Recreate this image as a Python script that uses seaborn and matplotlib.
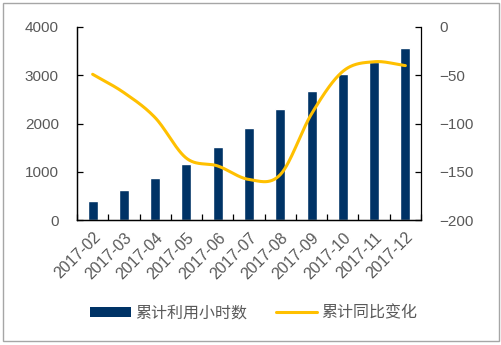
import numpy as np
import pandas as pd
import seaborn as sns
import matplotlib
matplotlib.use("Agg")
import matplotlib.pyplot as plt
from matplotlib.patches import Rectangle, Patch
from matplotlib.lines import Line2D
from matplotlib.ticker import FixedLocator, NullFormatter

months = ["2017-02", "2017-03", "2017-04", "2017-05", "2017-06", "2017-07",
          "2017-08", "2017-09", "2017-10", "2017-11", "2017-12"]
hours = [394, 620, 870, 1160, 1512, 1913, 2296, 2665, 3020, 3265, 3575]
yoy_change = [-49, -68, -94, -136, -144, -158, -153, -90, -46, -36, -40]

bar_label = "累计利用小时数"
line_label = "累计同比变化"

BAR_COLOR = "#003366"
LINE_COLOR = "#FFC000"
TEXT_COLOR = "#595959"

sns.set_theme(style="white")
plt.rcParams["font.family"] = ["Liberation Sans", "Noto Sans CJK SC", "DejaVu Sans"]


def smooth_curve(xs, ys, steps=30):
    """Catmull-Rom smoothing through the given points (drawing only)."""
    xs = np.asarray(xs, float)
    ys = np.asarray(ys, float)
    px = np.concatenate([[2 * xs[0] - xs[1]], xs, [2 * xs[-1] - xs[-2]]])
    py = np.concatenate([[2 * ys[0] - ys[1]], ys, [2 * ys[-1] - ys[-2]]])
    out_x, out_y = [], []
    t = np.linspace(0, 1, steps, endpoint=False)
    for i in range(1, len(px) - 2):
        for arr, out in ((px, out_x), (py, out_y)):
            p0, p1, p2, p3 = arr[i - 1], arr[i], arr[i + 1], arr[i + 2]
            seg = 0.5 * ((2 * p1) + (-p0 + p2) * t
                         + (2 * p0 - 5 * p1 + 4 * p2 - p3) * t ** 2
                         + (-p0 + 3 * p1 - 3 * p2 + p3) * t ** 3)
            out.extend(seg)
    out_x.append(xs[-1])
    out_y.append(ys[-1])
    return np.array(out_x), np.array(out_y)


df = pd.DataFrame({"month": months, "hours": hours, "yoy": yoy_change})

fig = plt.figure(figsize=(5.02, 3.45), dpi=100)
ax = fig.add_axes([77 / 502, 1 - 220 / 345, (421 - 77) / 502, (220 - 27) / 345])

sns.barplot(data=df, x="month", y="hours", color=BAR_COLOR, width=0.32,
            saturation=1, ax=ax)
ax.set_xlim(-0.5, len(months) - 0.5)
ax.set_ylim(0, 4000)
ax.set_yticks([0, 1000, 2000, 3000, 4000])
ax.set_xlabel("")
ax.set_ylabel("")

ax2 = ax.twinx()
sx, sy = smooth_curve(np.arange(len(months)), yoy_change)
sns.lineplot(x=sx, y=sy, color=LINE_COLOR, linewidth=2.2, ax=ax2, sort=False)
ax2.set_ylim(-200, 0)
ax2.set_yticks([-200, -150, -100, -50, 0])
ax2.set_xlim(-0.5, len(months) - 0.5)

for a in (ax, ax2):
    for side in ("left", "right", "bottom"):
        a.spines[side].set_visible(True)
        a.spines[side].set_color("black")
        a.spines[side].set_linewidth(0.9)
    a.spines["top"].set_visible(False)

ax.spines["right"].set_visible(False)

ax.tick_params(axis="y", direction="in", length=4, width=0.9, color="black",
               left=True, pad=13, labelsize=11, labelcolor=TEXT_COLOR)
ax2.tick_params(axis="y", direction="in", length=4, width=0.9, color="black",
                right=True, pad=13, labelsize=11, labelcolor=TEXT_COLOR)

# category separator ticks on the x axis
ax.xaxis.set_minor_locator(FixedLocator(np.arange(-0.5, len(months), 1.0)))
ax.xaxis.set_minor_formatter(NullFormatter())
ax.tick_params(axis="x", which="minor", direction="in", length=4, width=0.9,
               color="black", bottom=True)
ax.tick_params(axis="x", which="major", length=0, pad=7, labelsize=11.5,
               labelcolor=TEXT_COLOR)
for lbl in ax.get_xticklabels():
    lbl.set_rotation(45)
    lbl.set_ha("right")
    lbl.set_rotation_mode("anchor")

handles = [Patch(facecolor=BAR_COLOR, edgecolor="none"),
           Line2D([0], [0], color=LINE_COLOR, linewidth=2.2)]
leg = fig.legend(handles, [bar_label, line_label], loc="center",
                 bbox_to_anchor=(0.505, 0.093), ncol=2, frameon=False,
                 handlelength=2.6, handleheight=0.55, handletextpad=0.25,
                 columnspacing=1.8,
                 prop={"family": ["Noto Sans CJK SC", "DejaVu Sans"], "size": 11.5})
for t in leg.get_texts():
    t.set_color(TEXT_COLOR)

fig.patches.append(Rectangle((3 / 502, 4 / 345), 496 / 502, 338 / 345,
                             transform=fig.transFigure, fill=False,
                             edgecolor="#A6A6A6", linewidth=1.0))

fig.savefig("out.png", dpi=100)
